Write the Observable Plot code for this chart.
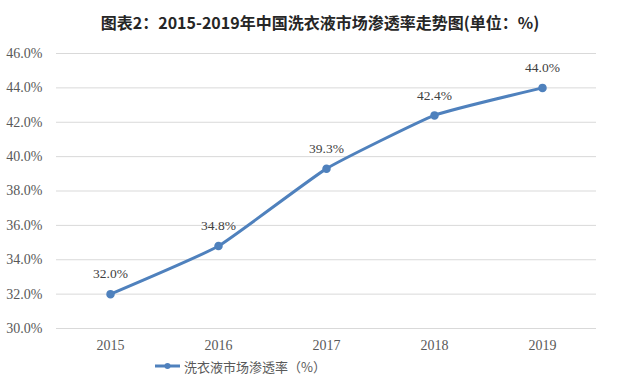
<!DOCTYPE html>
<html>
<head>
<meta charset="utf-8">
<script src="https://cdn.jsdelivr.net/npm/d3@7"></script>
<script src="https://cdn.jsdelivr.net/npm/@observablehq/plot@0.6"></script>
<style>
  html, body { margin: 0; padding: 0; background: #fff; width: 640px; height: 385px; overflow: hidden; }
  #title { height: 38px; line-height: 44px; text-align: center; font-family: "Noto Sans CJK SC", sans-serif; font-weight: bold; font-size: 16px; color: #262626; }
  #legend { height: 20px; display: flex; align-items: center; justify-content: flex-start; padding-left: 154px; font-family: "Noto Sans CJK SC", sans-serif; font-size: 13px; color: #595959; }
  #legend svg { margin-right: 3px; }
  #chart svg text { font-family: "Liberation Serif", "DejaVu Serif", serif !important; }
</style>
</head>
<body>
<div id="title">图表2：2015-2019年中国洗衣液市场渗透率走势图(单位：%)</div>
<div id="chart"></div>
<div id="legend"><svg width="27" height="10"><line x1="1" y1="5" x2="26" y2="5" stroke="#4f81bd" stroke-width="3"/><circle cx="13.5" cy="5" r="3" fill="#4f81bd"/></svg><span>洗衣液市场渗透率（%）</span></div>
<script>
const years = ["2015", "2016", "2017", "2018", "2019"];
const values = [32.0, 34.8, 39.3, 42.4, 44.0];
const yTicks = [30, 32, 34, 36, 38, 40, 42, 44, 46];
const data = years.map((y, i) => ({year: y, value: values[i]}));
const blue = "#4f81bd";
const serif = "Liberation Serif";

const plot = Plot.plot({
  width: 640,
  height: 318,
  marginTop: 15,
  marginBottom: 28,
  marginLeft: 56,
  marginRight: 44,
  style: { fontFamily: serif, fontSize: "14px", color: "#595959", background: "#fff" },
  x: { type: "point", domain: years, padding: 0.5, label: null },
  y: { domain: [30, 46], ticks: yTicks, label: null },
  marks: [
    Plot.gridY(yTicks, { stroke: "#d9d9d9", strokeOpacity: 1 }),
    Plot.axisY({ ticks: yTicks, tickSize: 0, tickPadding: 14, tickFormat: d => d.toFixed(1) + "%", fontSize: 14, fontFamily: serif, fill: "#595959" }),
    Plot.axisX({ tickSize: 0, tickPadding: 12, fontSize: 14, fontFamily: serif, fill: "#595959" }),
    Plot.line(data, { x: "year", y: "value", stroke: blue, strokeWidth: 3, curve: "cardinal", tension: 0.6 }),
    Plot.dot(data, { x: "year", y: "value", r: 3.5, fill: blue, stroke: blue }),
    Plot.text(data, { x: "year", y: "value", text: d => d.value.toFixed(1) + "%", dy: -20, fontSize: 13.5, fontFamily: serif, fill: "#404040" })
  ]
});
document.getElementById("chart").appendChild(plot);
</script>
</body>
</html>
